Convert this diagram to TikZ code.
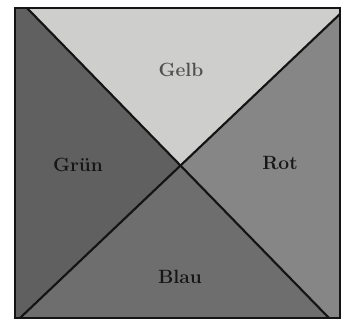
\documentclass[tikz,border=0pt]{standalone}
\usepackage{tikz}
\definecolor{gelbcolor}{RGB}{206, 206, 204}
\definecolor{gruencolor}{RGB}{96, 96, 96}
\definecolor{rotcolor}{RGB}{134, 134, 134}
\definecolor{blaucolor}{RGB}{110, 110, 110}
\definecolor{linecolor}{RGB}{20, 20, 20}
\definecolor{labelcolor}{RGB}{22, 22, 22}
\tikzset{
fieldlabel/.style={
  font=\bfseries\Large,
  text=labelcolor,
  align=center
},
edge/.style={
  draw=linecolor,
  line width=1.6pt
},
frame/.style={
  draw=linecolor,
  line width=1.2pt
}
}
\begin{document}
\begin{tikzpicture}[x=0.75pt, y=-0.75pt]
    \useasboundingbox (0,0) rectangle (343,322);
    % corners and diagonal ends
    \coordinate (tl) at (15,8);
    \coordinate (tr) at (340,8);
    \coordinate (br) at (340,318);
    \coordinate (bl) at (15,318);
    \coordinate (dtl) at (27,8);
    \coordinate (dtr) at (340,14);
    \coordinate (dbr) at (329,318);
    \coordinate (dbl) at (20,318);
    \coordinate (mid) at (181,166);

    % the four fields
    \fill[gelbcolor] (dtl) -- (tr) -- (dtr) -- (mid) -- cycle;
    \fill[rotcolor] (dtr) -- (br) -- (dbr) -- (mid) -- cycle;
    \fill[blaucolor] (dbr) -- (dbl) -- (mid) -- cycle;
    \fill[gruencolor] (dbl) -- (bl) -- (tl) -- (dtl) -- (mid) -- cycle;

    % diagonals and frame
    \draw[edge] (dtl) -- (dbr);
    \draw[edge] (dtr) -- (dbl);
    \draw[frame] (tl) rectangle (br);

    \node[fieldlabel, text=labelcolor!75] (gelb) at (181,70) {Gelb};
    \node[fieldlabel] (gruen) at (78,165) {Grün};
    \node[fieldlabel] (rot) at (280,163) {Rot};
    \node[fieldlabel] (blau) at (180,277) {Blau};
  \end{tikzpicture}
\end{document}
